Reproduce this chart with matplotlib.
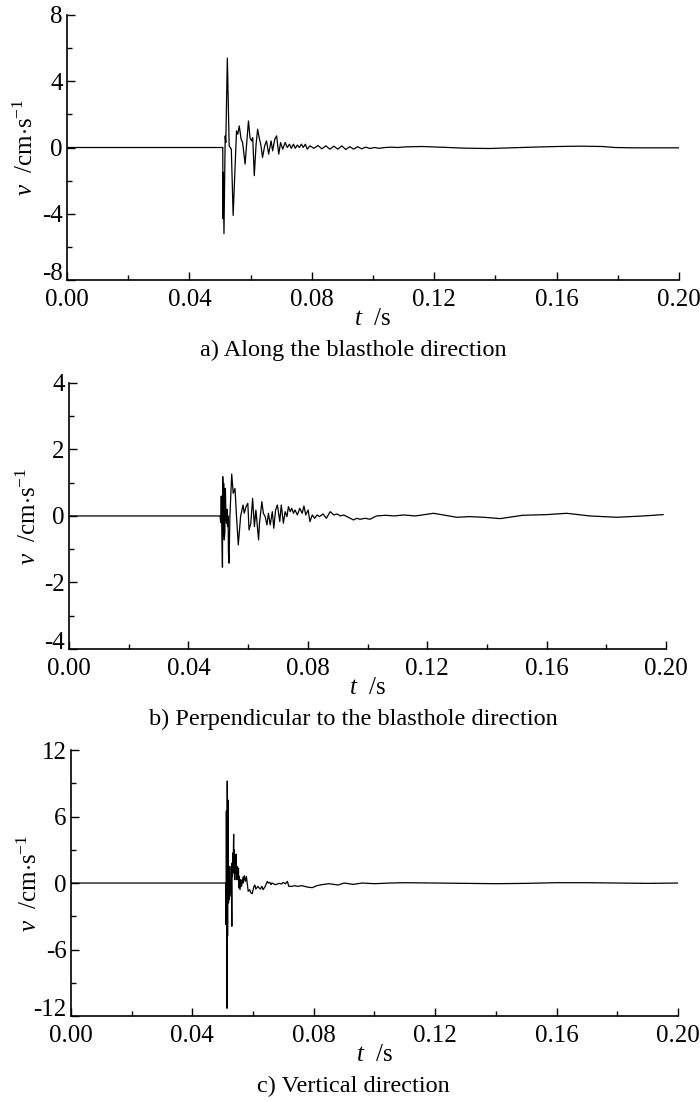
import numpy as np
import matplotlib.pyplot as plt
from matplotlib.ticker import MultipleLocator, FormatStrFormatter
from matplotlib.transforms import ScaledTranslation

plt.rcParams['font.family'] = ['Liberation Serif', 'DejaVu Serif']
plt.rcParams['mathtext.fontset'] = 'custom'
plt.rcParams['mathtext.rm'] = 'Liberation Serif'
plt.rcParams['mathtext.it'] = 'Liberation Serif:italic'

# a) along the blasthole direction  (t in s, v in cm/s)
t_a = [0.0, 0.0509, 0.0510, 0.0511, 0.0513, 0.0517, 0.0519, 0.0524, 0.0530, 0.0537,
       0.0543, 0.0554, 0.0558, 0.0563, 0.0569, 0.0574, 0.0582, 0.0587, 0.0593, 0.0598,
       0.0603, 0.0607, 0.0612, 0.0618, 0.0623, 0.0628, 0.0634, 0.0639, 0.0646, 0.0652,
       0.0659, 0.0667, 0.0672, 0.0679, 0.0685, 0.0692, 0.0698, 0.0705, 0.0713, 0.0720,
       0.0727, 0.0733, 0.0740, 0.0746, 0.0753, 0.0759, 0.0766, 0.0772, 0.0779, 0.0785,
       0.0794, 0.0807, 0.0820, 0.0833, 0.0846, 0.0859, 0.0872, 0.0885, 0.0898, 0.0911,
       0.0924, 0.0937, 0.0950, 0.0963, 0.0976, 0.0990, 0.1005, 0.1020, 0.1040, 0.1060,
       0.1080, 0.1110, 0.1160, 0.1220, 0.1300, 0.1380, 0.1450, 0.1520, 0.1600, 0.1680,
       0.1750, 0.1790, 0.1850, 0.1930, 0.2000]
v_a = [0.0, 0.0, -4.3, -1.5, -5.2, 0.7, 0.3, 5.4, 0.1, -0.1,
       -4.1, 1.0, 0.8, 1.3, 0.5, 0.3, -1.0, 0.2, 1.6, 0.6,
       0.4, 0.6, -1.7, 0.2, 1.1, 0.6, 0.1, -0.6, 0.1, 0.4,
       -0.4, 0.4, -0.2, 0.5, 0.7, -0.4, 0.3, -0.1, 0.3, 0.0,
       0.2, -0.05, 0.2, -0.05, 0.15, 0.0, 0.2, 0.0, 0.2, -0.1,
       0.1, -0.05, 0.12, -0.08, 0.1, -0.1, 0.08, -0.1, 0.1, -0.12,
       0.05, -0.1, 0.05, -0.08, 0.02, -0.06, 0.0, -0.05, 0.0, 0.02,
       0.0, 0.04, 0.06, 0.02, -0.04, -0.06, -0.02, 0.02, 0.06, 0.08,
       0.06, 0.0, -0.02, -0.02, -0.02]

# b) perpendicular to the blasthole direction
t_b = [0.0, 0.0506, 0.0508, 0.0510, 0.0512, 0.0514, 0.0515, 0.0517, 0.0518, 0.0520,
       0.0522, 0.0523, 0.0524, 0.0525, 0.0527, 0.0528, 0.0530, 0.0531, 0.0533, 0.0534,
       0.0536, 0.0539, 0.0545, 0.0550, 0.0556, 0.0561, 0.0567, 0.0575, 0.0583, 0.0587,
       0.0593, 0.0599, 0.0603, 0.0609, 0.0615, 0.0621, 0.0626, 0.0635, 0.0638, 0.0646,
       0.0651, 0.0657, 0.0663, 0.0668, 0.0674, 0.0681, 0.0686, 0.0692, 0.0698, 0.0706,
       0.0711, 0.0718, 0.0724, 0.0730, 0.0735, 0.0741, 0.0746, 0.0752, 0.0757, 0.0765,
       0.0773, 0.0781, 0.0787, 0.0793, 0.0801, 0.0807, 0.0815, 0.0823, 0.0831, 0.0839,
       0.0851, 0.0862, 0.0875, 0.0887, 0.0898, 0.0909, 0.0920, 0.0931, 0.0942, 0.0953,
       0.0964, 0.0975, 0.0992, 0.1008, 0.1030, 0.1060, 0.1090, 0.1120, 0.1160, 0.1221,
       0.1260, 0.1299, 0.1340, 0.1390, 0.1444, 0.1520, 0.1600, 0.1667, 0.1745, 0.1835,
       0.1924, 0.1990]
v_b = [0.0, 0.0, -0.2, 0.6, -0.4, -1.54, 1.18, -0.6, 0.98, -0.72,
       -0.5, 0.83, 0.75, 0.3, -0.2, -0.22, 0.2, -0.32, 0.0, -1.12,
       -1.42, 0.0, 1.26, 0.68, 0.83, 0.0, -0.87, 0.0, 0.33, 0.08,
       0.28, 0.38, -0.42, -0.22, 0.53, -0.32, 0.18, -0.72, -0.22, 0.43,
       0.08, -0.02, -0.27, 0.08, -0.27, 0.13, -0.37, 0.18, 0.33, -0.17,
       0.33, -0.22, 0.13, -0.02, 0.28, 0.13, 0.23, 0.08, 0.18, 0.03,
       0.23, 0.08, 0.3, 0.03, 0.18, -0.17, 0.03, -0.07, 0.03, -0.02,
       0.06, -0.07, 0.13, 0.03, 0.06, 0.0, 0.03, -0.02, -0.07, -0.12,
       -0.07, -0.1, -0.07, -0.1, 0.0, 0.02, 0.0, 0.03, 0.0, 0.08,
       0.02, -0.04, -0.02, -0.04, -0.08, 0.02, 0.04, 0.08, 0.0, -0.04,
       0.0, 0.04]

# c) vertical direction
t_c = [0.0, 0.0511, 0.0511, 0.0512, 0.0514, 0.0515, 0.0516, 0.0517, 0.0518, 0.0519,
       0.0520, 0.0521, 0.0522, 0.0523, 0.0525, 0.0526, 0.0528, 0.0528, 0.0530, 0.0531,
       0.0532, 0.0533, 0.0534, 0.0536, 0.0537, 0.0538, 0.0539, 0.0540, 0.0542, 0.0544,
       0.0545, 0.0547, 0.0549, 0.0552, 0.0553, 0.0555, 0.0557, 0.0560, 0.0562, 0.0567,
       0.0568, 0.0571, 0.0575, 0.0578, 0.0582, 0.0584, 0.0589, 0.0593, 0.0597, 0.0603,
       0.0606, 0.0609, 0.0616, 0.0620, 0.0624, 0.0629, 0.0633, 0.0640, 0.0647, 0.0650,
       0.0655, 0.0659, 0.0662, 0.0667, 0.0673, 0.0680, 0.0687, 0.0694, 0.0699, 0.0707,
       0.0713, 0.0718, 0.0727, 0.0737, 0.0747, 0.0761, 0.0778, 0.0795, 0.0810, 0.0826,
       0.0850, 0.0880, 0.0900, 0.0930, 0.0960, 0.1000, 0.1050, 0.1100, 0.1200, 0.1300,
       0.1400, 0.1500, 0.1600, 0.1700, 0.1800, 0.1900, 0.2000]
v_c = [0.0, 0.0, -3.76, 6.5, -11.3, 9.2, -4.8, 7.5, 6.9, -1.8,
       1.5, -1.5, 1.5, -1.2, -0.3, 0.3, -0.9, 1.5, -3.9, 1.8,
       0.6, 2.7, 0.9, 4.4, 1.2, 3.0, 0.3, 1.5, 0.9, 2.6,
       0.3, 1.5, 0.3, 1.35, -0.45, 0.6, -0.6, 0.3, -0.3, 0.54,
       0.0, 0.66, 0.15, 0.6, -0.3, -0.75, -0.6, -0.9, -0.96, -0.3,
       -0.18, -0.54, -0.3, -0.45, -0.54, -0.3, -0.6, -0.3, 0.15, 0.0,
       0.06, -0.15, 0.0, -0.06, -0.15, -0.09, -0.03, -0.09, 0.06, -0.06,
       0.15, -0.3, -0.3, -0.24, -0.3, -0.24, -0.36, -0.42, -0.24, -0.15,
       -0.06, -0.18, 0.0, -0.12, 0.0, -0.06, 0.0, 0.03, 0.0, -0.03,
       -0.06, -0.03, 0.03, 0.03, 0.0, -0.03, 0.0]

panels = [
    (t_a, v_a, 8, 4, [0.0957, 0.7459, 0.8743, 0.2405], 'a) Along the blasthole direction'),
    (t_b, v_b, 4, 2, [0.0986, 0.4111, 0.8529, 0.2414], 'b) Perpendicular to the blasthole direction'),
    (t_c, v_c, 12, 6, [0.1014, 0.0780, 0.8671, 0.2414], 'c) Vertical direction'),
]

fig = plt.figure(figsize=(7, 11.02), dpi=100)

for t, v, lim, step, rect, caption in panels:
    ax = fig.add_axes(rect)
    ax.plot(t, v, color='black', linewidth=0.9)
    ax.set_xlim(0, 0.2)
    ax.set_ylim(-lim, lim)
    ax.xaxis.set_major_locator(MultipleLocator(0.04))
    ax.xaxis.set_minor_locator(MultipleLocator(0.02))
    ax.yaxis.set_major_locator(MultipleLocator(step))
    ax.yaxis.set_minor_locator(MultipleLocator(step / 2))
    ax.xaxis.set_major_formatter(FormatStrFormatter('%.2f'))
    ax.yaxis.set_major_formatter(FormatStrFormatter('%d'))
    for s in ['top', 'right']:
        ax.spines[s].set_visible(False)
    for s in ['left', 'bottom']:
        ax.spines[s].set_linewidth(1.2)
    ax.tick_params(which='both', direction='in', labelsize=18, width=1.0)
    ax.tick_params(axis='x', pad=6.5)
    ax.tick_params(axis='y', pad=3)
    ax.tick_params(which='major', length=6)
    ax.tick_params(which='minor', length=3.5)
    ax.set_xlabel(r'$\it{t}$  /s', fontsize=18, labelpad=-2)
    ax.set_ylabel(r'$\it{v}$  /cm$\cdot$s$^{-1}$', fontsize=18)
    ax.yaxis.set_label_coords(-0.047, 0.5)
    fig.text(0.505, rect[1] - 0.064, caption, ha='center', va='center', fontsize=17.5)

# lift the lowest y label of each panel a little so it clears the 0.00 under it
fig.canvas.draw()
for ax, (t, v, lim, step, rect, caption) in zip(fig.axes, panels):
    for tick in ax.yaxis.get_major_ticks():
        if abs(tick.get_loc() + lim) < 1e-9:
            lab = tick.label1
            lab.set_transform(lab.get_transform() + ScaledTranslation(0, 6 / 72, fig.dpi_scale_trans))

fig.savefig('out.png', dpi=100)
